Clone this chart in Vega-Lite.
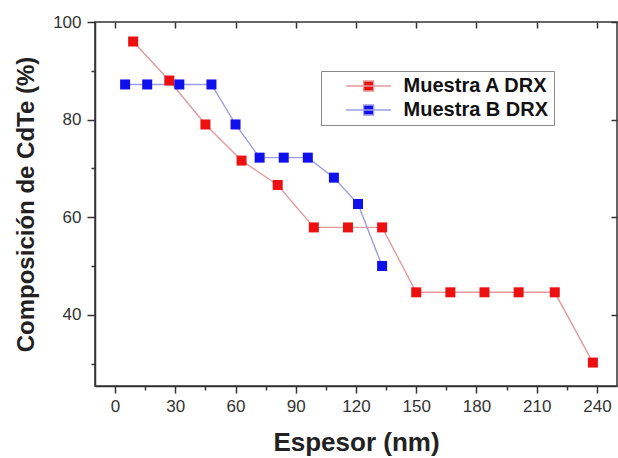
{
  "$schema": "https://vega.github.io/schema/vega-lite/v6.json",
  "width": 522,
  "height": 364,
  "autosize": "none",
  "padding": {"left": 95, "top": 22, "right": 1, "bottom": 72},
  "config": {
    "font": "Liberation Sans",
    "view": {"stroke": "#333", "strokeWidth": 1.5}
  },
  "data": {
    "values": [
      {"serie": "Muestra A DRX", "espesor": 9, "comp": 96.0},
      {"serie": "Muestra A DRX", "espesor": 27, "comp": 88.0},
      {"serie": "Muestra A DRX", "espesor": 45, "comp": 79.0},
      {"serie": "Muestra A DRX", "espesor": 63, "comp": 71.6},
      {"serie": "Muestra A DRX", "espesor": 81, "comp": 66.6},
      {"serie": "Muestra A DRX", "espesor": 99, "comp": 57.9},
      {"serie": "Muestra A DRX", "espesor": 116, "comp": 57.9},
      {"serie": "Muestra A DRX", "espesor": 133, "comp": 57.9},
      {"serie": "Muestra A DRX", "espesor": 150, "comp": 44.6},
      {"serie": "Muestra A DRX", "espesor": 167, "comp": 44.6},
      {"serie": "Muestra A DRX", "espesor": 184, "comp": 44.6},
      {"serie": "Muestra A DRX", "espesor": 201, "comp": 44.6},
      {"serie": "Muestra A DRX", "espesor": 219, "comp": 44.6},
      {"serie": "Muestra A DRX", "espesor": 238, "comp": 30.2},
      {"serie": "Muestra B DRX", "espesor": 5, "comp": 87.2},
      {"serie": "Muestra B DRX", "espesor": 16, "comp": 87.2},
      {"serie": "Muestra B DRX", "espesor": 32, "comp": 87.2},
      {"serie": "Muestra B DRX", "espesor": 48, "comp": 87.2},
      {"serie": "Muestra B DRX", "espesor": 60, "comp": 79.0},
      {"serie": "Muestra B DRX", "espesor": 72, "comp": 72.2},
      {"serie": "Muestra B DRX", "espesor": 84, "comp": 72.2},
      {"serie": "Muestra B DRX", "espesor": 96, "comp": 72.2},
      {"serie": "Muestra B DRX", "espesor": 109, "comp": 68.1},
      {"serie": "Muestra B DRX", "espesor": 121, "comp": 62.7},
      {"serie": "Muestra B DRX", "espesor": 133, "comp": 50.0}
    ]
  },
  "resolve": {"axis": {"x": "independent", "y": "independent"}},
  "layer": [
    {
      "mark": {"type": "line", "strokeWidth": 1.4},
      "encoding": {
        "x": {
          "field": "espesor", "type": "quantitative",
          "scale": {"domain": [-10, 250], "nice": false, "zero": false},
          "axis": {
            "title": "Espesor (nm)",
            "orient": "bottom",
            "values": [0, 15, 30, 45, 60, 75, 90, 105, 120, 135, 150, 165, 180, 195, 210, 225, 240],
            "labelExpr": "datum.value % 30 === 0 ? datum.label : ''",
            "tickSize": {"condition": {"test": "datum.value % 30 === 0", "value": 7}, "value": 4},
            "grid": false,
            "domainColor": "#333", "domainWidth": 1.5,
            "tickColor": "#333", "tickWidth": 1.5,
            "labelFontSize": 17, "labelColor": "#333", "labelPadding": 5,
            "titleFontSize": 26, "titleFontWeight": "bold", "titleColor": "#222", "titlePadding": 15
          }
        },
        "y": {
          "field": "comp", "type": "quantitative",
          "scale": {"domain": [25.4, 100], "nice": false, "zero": false},
          "axis": {
            "title": "Composición de CdTe (%)",
            "orient": "left",
            "values": [30, 40, 50, 60, 70, 80, 90, 100],
            "labelExpr": "datum.value % 20 === 0 ? datum.label : ''",
            "tickSize": {"condition": {"test": "datum.value % 20 === 0", "value": 8}, "value": 4},
            "grid": false,
            "domainColor": "#333", "domainWidth": 1.5,
            "tickColor": "#333", "tickWidth": 1.5,
            "labelFontSize": 17, "labelColor": "#333", "labelPadding": 6,
            "titleFontSize": 24, "titleFontWeight": "bold", "titleColor": "#222", "titlePadding": 14
          }
        },
        "stroke": {
          "field": "serie", "type": "nominal",
          "scale": {"domain": ["Muestra A DRX", "Muestra B DRX"], "range": ["#e39a9a", "#9d9de6"]},
          "legend": {
            "title": null,
            "orient": "none",
            "legendX": 226,
            "legendY": 49,
            "symbolType": "M-4.5,0H4.5M-1,-1H1V1H-1Z",
            "symbolSize": 100,
            "symbolStrokeWidth": 1.3,
            "symbolOffset": 32.6,
            "labelFont": "Liberation Sans",
            "labelFontSize": 20,
            "labelFontWeight": "bold",
            "labelColor": "#111",
            "labelOffset": 25,
            "padding": 5,
            "rowPadding": 4,
            "strokeColor": "#888",
            "fillColor": "white"
          }
        }
      }
    },
    {
      "mark": {"type": "point", "shape": "square", "filled": true, "size": 100, "opacity": 1},
      "encoding": {
        "x": {"field": "espesor", "type": "quantitative", "axis": null},
        "y": {"field": "comp", "type": "quantitative", "axis": null},
        "fill": {
          "field": "serie", "type": "nominal",
          "scale": {"domain": ["Muestra A DRX", "Muestra B DRX"], "range": ["#ec1010", "#1010ec"]},
          "legend": {
            "title": null,
            "orient": "none",
            "legendX": 226,
            "legendY": 49,
            "symbolType": "M-4.5,0H4.5M-1,-1H1V1H-1Z",
            "symbolSize": 100,
            "symbolStrokeWidth": 1.3,
            "symbolOffset": 32.6,
            "labelFont": "Liberation Sans",
            "labelFontSize": 20,
            "labelFontWeight": "bold",
            "labelColor": "#111",
            "labelOffset": 25,
            "padding": 5,
            "rowPadding": 4,
            "strokeColor": "#888",
            "fillColor": "white"
          }
        }
      }
    },
    {
      "mark": {"type": "point", "opacity": 0},
      "encoding": {
        "x": {
          "field": "espesor", "type": "quantitative",
          "axis": {
            "orient": "top", "title": null, "labels": false,
            "values": [0, 30, 60, 90, 120, 150, 180, 210, 240],
            "tickSize": -6, "tickColor": "#333", "tickWidth": 1.5,
            "domain": false, "grid": false
          }
        },
        "y": {
          "field": "comp", "type": "quantitative",
          "axis": {
            "orient": "right", "title": null, "labels": false,
            "values": [40, 60, 80, 100],
            "tickSize": -6, "tickColor": "#333", "tickWidth": 1.5,
            "domain": false, "grid": false
          }
        }
      }
    }
  ]
}
